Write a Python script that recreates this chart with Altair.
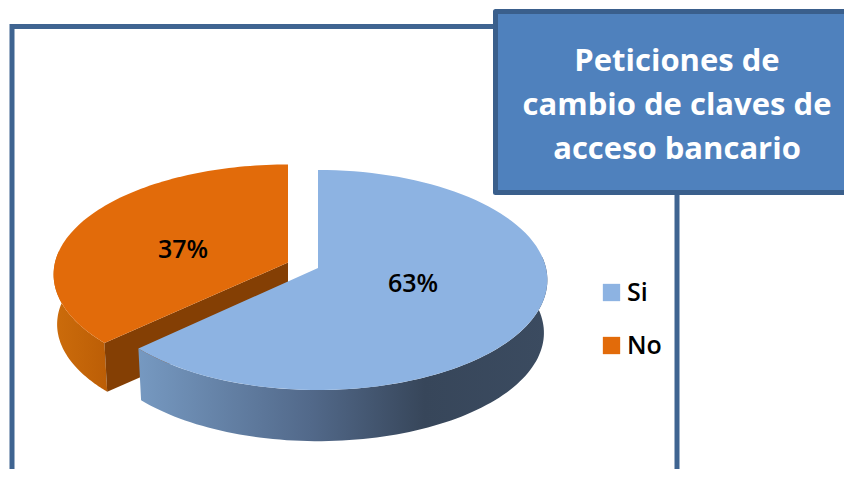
import math
import altair as alt
import pandas as pd

# --- data
categories = ["Si", "No"]
shares = [63, 37]
colors = ["#8DB3E2", "#E26B0A"]
title_lines = ["Peticiones de", "cambio de claves de", "acceso bancario"]

# --- perspective pie geometry (page pixels)
W, H = 836, 461
RX_BLUE, RY, K = 228, 108.7, 0.109
RX_ORANGE = 233
BLUE_APEX = (318, 268)
ORANGE_APEX = (288, 262.5)
DEPTH_BLUE, DEPTH_ORANGE = 53, 50
SHRINK = 0.985

split = shares[0] / sum(shares) * 360


def rim(apex, rx, t, depth=0.0, shrink=1.0):
    a = math.radians(t)
    u, v = math.sin(a), math.cos(a)
    d = 1 + K * v
    return [apex[0] + shrink * rx * u / d, apex[1] + depth - shrink * RY * v / d]


def arc(apex, rx, t0, t1, depth=0.0, shrink=1.0, n=90):
    return [rim(apex, rx, t0 + (t1 - t0) * i / n, depth, shrink) for i in range(n + 1)]


def poly(points, **extra):
    ring = list(points) + [points[0]]
    return {"type": "Feature", "geometry": {"type": "Polygon", "coordinates": [ring]},
            "properties": {}, **extra}


def line(points):
    return {"type": "Feature", "geometry": {"type": "LineString", "coordinates": points},
            "properties": {}}


def shape(feature, **mark):
    return alt.Chart(alt.Data(values=[feature])).mark_geoshape(**mark)


color_scale = alt.Scale(domain=categories, range=colors)
legend = alt.Legend(
    title=None, orient="none", legendX=591, legendY=272, symbolType="square",
    symbolSize=300, symbolStrokeWidth=0, labelFontSize=25, labelFont="Open Sans",
    labelFontWeight=600, labelColor="#000000", rowPadding=27, labelOffset=3,
)

frame = shape(
    line([[12, 490], [12, 26.5], [677, 26.5], [677, 490]]),
    filled=False, stroke="#3F6491", strokeWidth=5,
)

# orange slice
orange_wall = shape(
    poly(arc(ORANGE_APEX, RX_ORANGE, split, 276)
         + arc(ORANGE_APEX, RX_ORANGE, 276, split, DEPTH_ORANGE, SHRINK)),
    fill=alt.Gradient(gradient="linear", x1=0, x2=1, y1=0, y2=0,
                      stops=[alt.GradientStop(color="#CC6C0B", offset=0),
                             alt.GradientStop(color="#BC5E06", offset=1)]),
    stroke=None,
)
orange_cut = shape(
    poly([list(ORANGE_APEX), rim(ORANGE_APEX, RX_ORANGE, split),
          rim(ORANGE_APEX, RX_ORANGE, split, DEPTH_ORANGE, SHRINK),
          [ORANGE_APEX[0], ORANGE_APEX[1] + DEPTH_ORANGE]]),
    fill="#843F04", stroke=None,
)
orange_top = shape(
    poly([list(ORANGE_APEX)] + arc(ORANGE_APEX, RX_ORANGE, split, 360), cat=categories[1]),
    stroke=None,
).encode(color=alt.Color("cat:N", scale=color_scale, legend=legend))

# blue slice
blue_wall = shape(
    poly(arc(BLUE_APEX, RX_BLUE, 84, split)
         + arc(BLUE_APEX, RX_BLUE, split, 84, DEPTH_BLUE, SHRINK)),
    fill=alt.Gradient(gradient="linear", x1=0, x2=1, y1=0, y2=0,
                      stops=[alt.GradientStop(color="#7699C1", offset=0),
                             alt.GradientStop(color="#52698A", offset=0.42),
                             alt.GradientStop(color="#37465A", offset=0.7),
                             alt.GradientStop(color="#3B4B60", offset=1)]),
    stroke=None,
)
blue_top = shape(
    poly([list(BLUE_APEX)] + arc(BLUE_APEX, RX_BLUE, 0, split), cat=categories[0]),
    stroke=None,
).encode(color=alt.Color("cat:N", scale=color_scale, legend=legend))

# title box
box = shape(
    poly([[495.5, 11.5], [870, 11.5], [870, 192.5], [495.5, 192.5]]),
    fill="#4F81BD", stroke="#3A5F8C", strokeWidth=5, strokeJoin="round",
)

title_df = pd.DataFrame({"t": title_lines, "py": [53.5, 97.5, 141.5]})
title_text = alt.Chart(title_df).mark_text(
    font="Open Sans", fontWeight="bold", fontSize=31, color="#FFFFFF",
    align="center", baseline="middle",
).encode(x=alt.value(677 - 8), y=alt.Y("py:Q", scale=None), text="t:N")

label_df = pd.DataFrame({
    "t": [f"{s}%" for s in shares],
    "px": [413 - 8, 183 - 8],
    "py": [284 - 8, 250 - 8],
})
labels = alt.Chart(label_df).mark_text(
    font="Open Sans", fontWeight=600, fontSize=25, color="#000000",
    align="center", baseline="middle",
).encode(x=alt.X("px:Q", scale=None), y=alt.Y("py:Q", scale=None), text="t:N")

chart = (
    alt.layer(frame, orange_wall, orange_cut, orange_top, blue_wall, blue_top, box,
              title_text, labels)
    .project(type="identity", scale=1, translate=[-8, -8])
    .properties(width=W, height=H, padding=0,
                autosize=alt.AutoSizeParams(type="none"), background="#FFFFFF")
    .configure_view(stroke=None)
    .configure_axis(grid=False, domain=False, ticks=False, labels=False, title=None)
)

chart.save("out.html", embed_options={"renderer": "svg", "actions": False})
